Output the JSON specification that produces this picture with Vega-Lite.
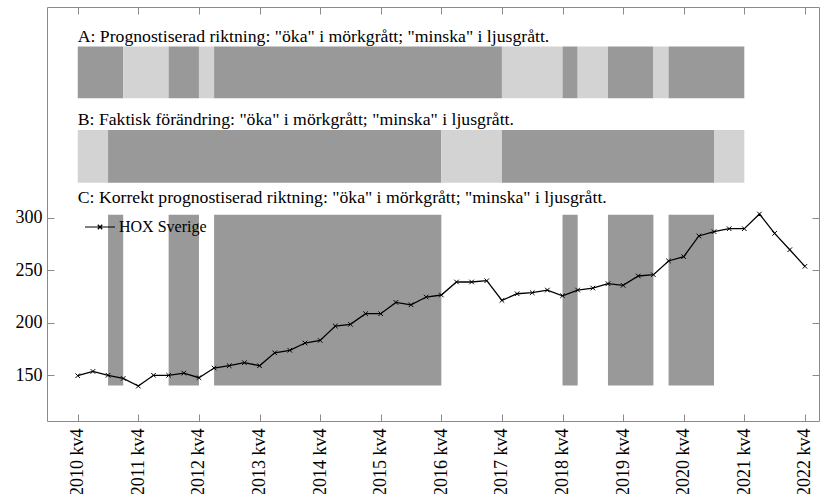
{
  "$schema": "https://vega.github.io/schema/vega-lite/v6.json",
  "width": 772,
  "height": 414,
  "autosize": {"type": "none"},
  "padding": {"left": 47, "top": 7, "right": 3, "bottom": 73},
  "background": "white",
  "config": {
    "font": "Liberation Serif",
    "view": {"stroke": "#8a8a8a", "strokeWidth": 1},
    "axis": {
      "grid": false,
      "domain": false,
      "tickColor": "#8a8a8a",
      "tickSize": -7,
      "tickWidth": 1,
      "labelFont": "Liberation Serif",
      "labelFontSize": 18,
      "labelColor": "black",
      "title": null
    }
  },
  "datasets": {
    "hox": [
      {"kvartal": "2010 kv4", "t": 0, "hox": 149.6},
      {"kvartal": "2011 kv1", "t": 1, "hox": 153.7},
      {"kvartal": "2011 kv2", "t": 2, "hox": 150.0},
      {"kvartal": "2011 kv3", "t": 3, "hox": 147.0},
      {"kvartal": "2011 kv4", "t": 4, "hox": 139.7},
      {"kvartal": "2012 kv1", "t": 5, "hox": 150.0},
      {"kvartal": "2012 kv2", "t": 6, "hox": 150.0},
      {"kvartal": "2012 kv3", "t": 7, "hox": 152.1},
      {"kvartal": "2012 kv4", "t": 8, "hox": 147.7},
      {"kvartal": "2013 kv1", "t": 9, "hox": 156.9},
      {"kvartal": "2013 kv2", "t": 10, "hox": 159.1},
      {"kvartal": "2013 kv3", "t": 11, "hox": 162.0},
      {"kvartal": "2013 kv4", "t": 12, "hox": 159.1},
      {"kvartal": "2014 kv1", "t": 13, "hox": 171.4},
      {"kvartal": "2014 kv2", "t": 14, "hox": 173.8},
      {"kvartal": "2014 kv3", "t": 15, "hox": 180.7},
      {"kvartal": "2014 kv4", "t": 16, "hox": 183.2},
      {"kvartal": "2015 kv1", "t": 17, "hox": 196.9},
      {"kvartal": "2015 kv2", "t": 18, "hox": 198.5},
      {"kvartal": "2015 kv3", "t": 19, "hox": 208.6},
      {"kvartal": "2015 kv4", "t": 20, "hox": 208.6},
      {"kvartal": "2016 kv1", "t": 21, "hox": 219.4},
      {"kvartal": "2016 kv2", "t": 22, "hox": 217.1},
      {"kvartal": "2016 kv3", "t": 23, "hox": 224.5},
      {"kvartal": "2016 kv4", "t": 24, "hox": 226.4},
      {"kvartal": "2017 kv1", "t": 25, "hox": 238.8},
      {"kvartal": "2017 kv2", "t": 26, "hox": 238.8},
      {"kvartal": "2017 kv3", "t": 27, "hox": 240.0},
      {"kvartal": "2017 kv4", "t": 28, "hox": 221.3},
      {"kvartal": "2018 kv1", "t": 29, "hox": 227.6},
      {"kvartal": "2018 kv2", "t": 30, "hox": 228.6},
      {"kvartal": "2018 kv3", "t": 31, "hox": 231.1},
      {"kvartal": "2018 kv4", "t": 32, "hox": 225.7},
      {"kvartal": "2019 kv1", "t": 33, "hox": 231.1},
      {"kvartal": "2019 kv2", "t": 34, "hox": 233.0},
      {"kvartal": "2019 kv3", "t": 35, "hox": 237.2},
      {"kvartal": "2019 kv4", "t": 36, "hox": 235.6},
      {"kvartal": "2020 kv1", "t": 37, "hox": 244.5},
      {"kvartal": "2020 kv2", "t": 38, "hox": 245.7},
      {"kvartal": "2020 kv3", "t": 39, "hox": 258.8},
      {"kvartal": "2020 kv4", "t": 40, "hox": 262.9},
      {"kvartal": "2021 kv1", "t": 41, "hox": 282.6},
      {"kvartal": "2021 kv2", "t": 42, "hox": 286.7},
      {"kvartal": "2021 kv3", "t": 43, "hox": 289.5},
      {"kvartal": "2021 kv4", "t": 44, "hox": 289.5},
      {"kvartal": "2022 kv1", "t": 45, "hox": 303.5},
      {"kvartal": "2022 kv2", "t": 46, "hox": 285.1},
      {"kvartal": "2022 kv3", "t": 47, "hox": 269.5},
      {"kvartal": "2022 kv4", "t": 48, "hox": 253.7}
    ],
    "band": [
      {"panel": "A", "start": 0, "end": 3, "riktning": "öka"},
      {"panel": "A", "start": 3, "end": 6, "riktning": "minska"},
      {"panel": "A", "start": 6, "end": 8, "riktning": "öka"},
      {"panel": "A", "start": 8, "end": 9, "riktning": "minska"},
      {"panel": "A", "start": 9, "end": 28, "riktning": "öka"},
      {"panel": "A", "start": 28, "end": 32, "riktning": "minska"},
      {"panel": "A", "start": 32, "end": 33, "riktning": "öka"},
      {"panel": "A", "start": 33, "end": 35, "riktning": "minska"},
      {"panel": "A", "start": 35, "end": 38, "riktning": "öka"},
      {"panel": "A", "start": 38, "end": 39, "riktning": "minska"},
      {"panel": "A", "start": 39, "end": 44, "riktning": "öka"},
      {"panel": "B", "start": 0, "end": 2, "riktning": "minska"},
      {"panel": "B", "start": 2, "end": 24, "riktning": "öka"},
      {"panel": "B", "start": 24, "end": 28, "riktning": "minska"},
      {"panel": "B", "start": 28, "end": 42, "riktning": "öka"},
      {"panel": "B", "start": 42, "end": 44, "riktning": "minska"},
      {"panel": "C", "start": 2, "end": 3, "riktning": "öka"},
      {"panel": "C", "start": 6, "end": 8, "riktning": "öka"},
      {"panel": "C", "start": 9, "end": 24, "riktning": "öka"},
      {"panel": "C", "start": 32, "end": 33, "riktning": "öka"},
      {"panel": "C", "start": 35, "end": 38, "riktning": "öka"},
      {"panel": "C", "start": 39, "end": 42, "riktning": "öka"}
    ],
    "notes": [
      {"panel": "A", "text": "A: Prognostiserad riktning: \"öka\" i mörkgrått; \"minska\" i ljusgrått."},
      {"panel": "B", "text": "B: Faktisk förändring: \"öka\" i mörkgrått; \"minska\" i ljusgrått."},
      {"panel": "C", "text": "C: Korrekt prognostiserad riktning: \"öka\" i mörkgrått; \"minska\" i ljusgrått."}
    ]
  },
  "layer": [
    {
      "data": {"name": "band"},
      "transform": [{"filter": "datum.panel === 'A'"}],
      "mark": {"type": "rect"},
      "encoding": {
        "x": {"field": "start", "type": "quantitative", "scale": {"domain": [-2.03, 48.93], "nice": false, "zero": false}, "axis": null},
        "x2": {"field": "end"},
        "y": {"datum": 413.7, "type": "quantitative", "scale": {"domain": [106.5, 500.5], "nice": false, "zero": false}, "axis": null},
        "y2": {"datum": 462.9},
        "fill": {"field": "riktning", "type": "nominal", "scale": {"domain": ["öka", "minska"], "range": ["#999999", "#d3d3d3"]}, "legend": null}
      }
    },
    {
      "data": {"name": "band"},
      "transform": [{"filter": "datum.panel === 'B'"}],
      "mark": {"type": "rect"},
      "encoding": {
        "x": {"field": "start", "type": "quantitative", "axis": null},
        "x2": {"field": "end"},
        "y": {"datum": 333.3, "type": "quantitative", "axis": null},
        "y2": {"datum": 383.5},
        "fill": {"field": "riktning", "type": "nominal", "legend": null}
      }
    },
    {
      "data": {"name": "band"},
      "transform": [{"filter": "datum.panel === 'C'"}],
      "mark": {"type": "rect"},
      "encoding": {
        "x": {"field": "start", "type": "quantitative", "axis": null},
        "x2": {"field": "end"},
        "y": {"datum": 140.2, "type": "quantitative", "axis": null},
        "y2": {"datum": 302.9},
        "fill": {"field": "riktning", "type": "nominal", "legend": null}
      }
    },
    {
      "mark": {"type": "rule", "strokeDash": [4, 3], "color": "#444444", "strokeWidth": 1},
      "encoding": {
        "x": {"datum": 44, "type": "quantitative", "axis": null}
      }
    },
    {
      "data": {"name": "hox"},
      "mark": {"type": "line", "strokeWidth": 1.3},
      "encoding": {
        "x": {"field": "t", "type": "quantitative", "axis": {"orient": "bottom", "values": [0, 4, 8, 12, 16, 20, 24, 28, 32, 36, 40, 44, 48], "labelExpr": "(2010 + datum.value / 4) + ' kv4'", "labelAngle": -90, "labelPadding": 14}},
        "y": {"field": "hox", "type": "quantitative", "axis": {"orient": "left", "values": [150, 200, 250, 300], "labelPadding": 12}},
        "color": {"datum": "HOX Sverige", "type": "nominal", "scale": {"range": ["black"]}, "legend": {"orient": "none", "legendX": 37, "legendY": 204, "title": null, "padding": 0, "symbolType": "M-1,0L1,0M-0.15,-0.15L0.15,0.15M-0.15,0.15L0.15,-0.15", "symbolSize": 900, "symbolStrokeWidth": 1.2, "symbolStrokeColor": "black", "symbolFillColor": "transparent", "labelFont": "Liberation Serif", "labelFontSize": 16, "labelColor": "black", "labelOffset": 3}}
      }
    },
    {
      "data": {"name": "hox"},
      "mark": {"type": "point", "shape": "M-1,-1L1,1M-1,1L1,-1", "filled": false, "size": 21, "strokeWidth": 1, "color": "black", "opacity": 1},
      "encoding": {
        "x": {"field": "t", "type": "quantitative", "axis": {"orient": "top", "values": [0, 4, 8, 12, 16, 20, 24, 28, 32, 36, 40, 44, 48], "labels": false}},
        "y": {"field": "hox", "type": "quantitative", "axis": {"orient": "right", "values": [150, 200, 250, 300], "labels": false}}
      }
    },
    {
      "data": {"name": "notes"},
      "transform": [{"filter": "datum.panel === 'A'"}],
      "mark": {"type": "text", "align": "left", "baseline": "alphabetic", "font": "Liberation Serif", "fontSize": 17.7, "color": "black"},
      "encoding": {
        "x": {"datum": 0, "type": "quantitative", "axis": null},
        "y": {"datum": 467.3, "type": "quantitative", "axis": null},
        "text": {"field": "text"}
      }
    },
    {
      "data": {"name": "notes"},
      "transform": [{"filter": "datum.panel === 'B'"}],
      "mark": {"type": "text", "align": "left", "baseline": "alphabetic", "font": "Liberation Serif", "fontSize": 17.7, "color": "black"},
      "encoding": {
        "x": {"datum": 0, "type": "quantitative", "axis": null},
        "y": {"datum": 388.3, "type": "quantitative", "axis": null},
        "text": {"field": "text"}
      }
    },
    {
      "data": {"name": "notes"},
      "transform": [{"filter": "datum.panel === 'C'"}],
      "mark": {"type": "text", "align": "left", "baseline": "alphabetic", "font": "Liberation Serif", "fontSize": 17.7, "color": "black"},
      "encoding": {
        "x": {"datum": 0, "type": "quantitative", "axis": null},
        "y": {"datum": 313.7, "type": "quantitative", "axis": null},
        "text": {"field": "text"}
      }
    }
  ],
  "resolve": {"axis": {"x": "independent", "y": "independent"}}
}
